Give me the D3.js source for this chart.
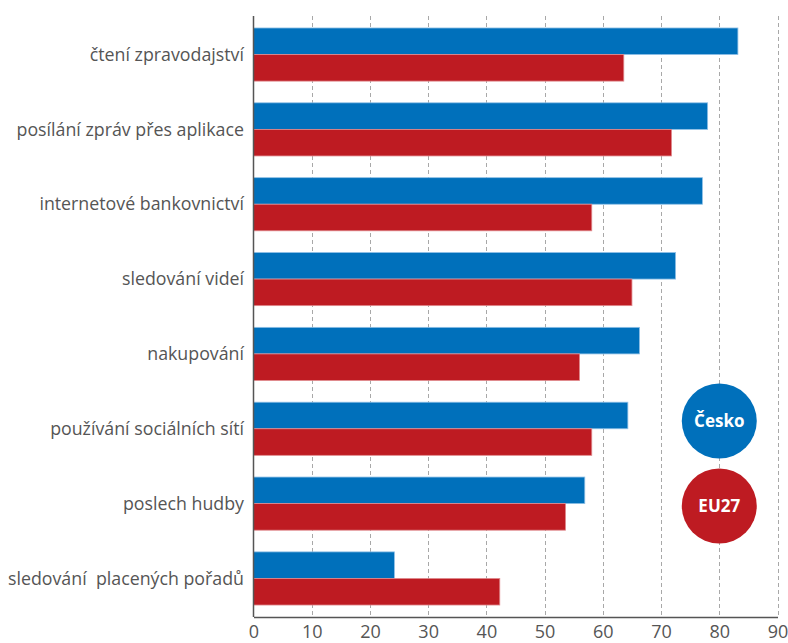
<!DOCTYPE html>
<html>
<head>
<meta charset="utf-8">
<script src="https://cdn.jsdelivr.net/npm/d3@7"></script>
<style>
  body { margin: 0; background: #fff; }
  svg text { font-family: "Open Sans", "Noto Sans", sans-serif; }
</style>
</head>
<body>
<svg id="chart"></svg>
<script>
// data
var categories = [
    "čtení zpravodajství",
    "posílání zpráv přes aplikace",
    "internetové bankovnictví",
    "sledování videí",
    "nakupování",
    "používání sociálních sítí",
    "poslech hudby",
    "sledování  placených pořadů"
];
var cesko = [83.2, 78.0, 77.1, 72.5, 66.3, 64.3, 56.9, 24.2];
var eu27 = [63.6, 71.8, 58.1, 65.0, 56.0, 58.1, 53.6, 42.3];
var xTicks = [0, 10, 20, 30, 40, 50, 60, 70, 80, 90];
var seriesNames = ["Česko", "EU27"];

var width = 788;
var height = 643;
var blue = "#0070bb";
var red = "#be1b22";

var svg = d3.select("#chart")
    .attr("width", width)
    .attr("height", height);

var plotLeft = 253.5;
var plotRight = 777.5;
var plotTop = 16;
var plotBottom = 617;

var xScale = d3.scaleLinear()
    .domain([0, 90])
    .range([plotLeft, plotRight]);

var yScale = d3.scaleBand()
    .domain(categories)
    .range([plotTop, plotBottom])
    .paddingInner(0.29)
    .paddingOuter(0.16);

// dashed grid lines
svg.selectAll("line.grid")
    .data(xTicks.slice(1))
    .enter()
    .append("line")
    .attr("class", "grid")
    .attr("x1", function(d){ return Math.round(xScale(d)) + 0.5; })
    .attr("x2", function(d){ return Math.round(xScale(d)) + 0.5; })
    .attr("y1", plotTop)
    .attr("y2", plotBottom)
    .attr("stroke", "#a8a8a8")
    .attr("stroke-width", 1)
    .attr("stroke-dasharray", "4,3");

var rows = categories.map(function(c, i){
    return {name: c, cz: cesko[i], eu: eu27[i]};
});

var half = yScale.bandwidth() / 2;

svg.selectAll("rect.cz")
    .data(rows)
    .enter()
    .append("rect")
    .attr("class", "cz")
    .attr("x", xScale(0))
    .attr("y", function(d){ return yScale(d.name); })
    .attr("width", function(d){ return xScale(d.cz) - xScale(0); })
    .attr("height", half)
    .attr("fill", blue)
    .attr("stroke", "#8fc0e6")
    .attr("stroke-width", 0.8);

svg.selectAll("rect.eu")
    .data(rows)
    .enter()
    .append("rect")
    .attr("class", "eu")
    .attr("x", xScale(0))
    .attr("y", function(d){ return yScale(d.name) + half; })
    .attr("width", function(d){ return xScale(d.eu) - xScale(0); })
    .attr("height", half)
    .attr("fill", red)
    .attr("stroke", "#e08a8e")
    .attr("stroke-width", 0.8);

// category labels
svg.selectAll("text.cat")
    .data(categories)
    .enter()
    .append("text")
    .attr("class", "cat")
    .attr("x", 244)
    .attr("y", function(d){ return yScale(d) + half; })
    .attr("dy", "0.35em")
    .attr("text-anchor", "end")
    .attr("font-size", 17.8)
    .attr("fill", "#555")
    .style("white-space", "pre")
    .text(function(d){ return d; });

// axes
var xAxis = d3.axisBottom(xScale)
    .tickValues(xTicks)
    .tickSize(0)
    .tickPadding(8);

var gx = svg.append("g")
    .attr("transform", "translate(0," + plotBottom + ")")
    .call(xAxis);
gx.select(".domain")
    .attr("stroke", "#555")
    .attr("stroke-width", 1.5);
gx.selectAll("text")
    .attr("font-size", 18)
    .attr("fill", "#555")
    .attr("font-family", "'Open Sans', sans-serif");

svg.append("line")
    .attr("x1", plotLeft)
    .attr("x2", plotLeft)
    .attr("y1", plotTop)
    .attr("y2", plotBottom)
    .attr("stroke", "#555")
    .attr("stroke-width", 1.5);

// legend circles
var legend = svg.selectAll("g.legend")
    .data(seriesNames)
    .enter()
    .append("g")
    .attr("class", "legend")
    .attr("transform", function(d, i){
        return "translate(" + xScale(80) + "," + (421 + i * 85) + ")";
    });
legend.append("circle")
    .attr("r", 37.5)
    .attr("fill", function(d, i){ return i == 0 ? blue : red; });
legend.append("text")
    .attr("text-anchor", "middle")
    .attr("dy", "0.36em")
    .attr("font-size", 17)
    .attr("font-weight", "bold")
    .attr("fill", "#fff")
    .text(function(d){ return d; });
</script>
</body>
</html>
